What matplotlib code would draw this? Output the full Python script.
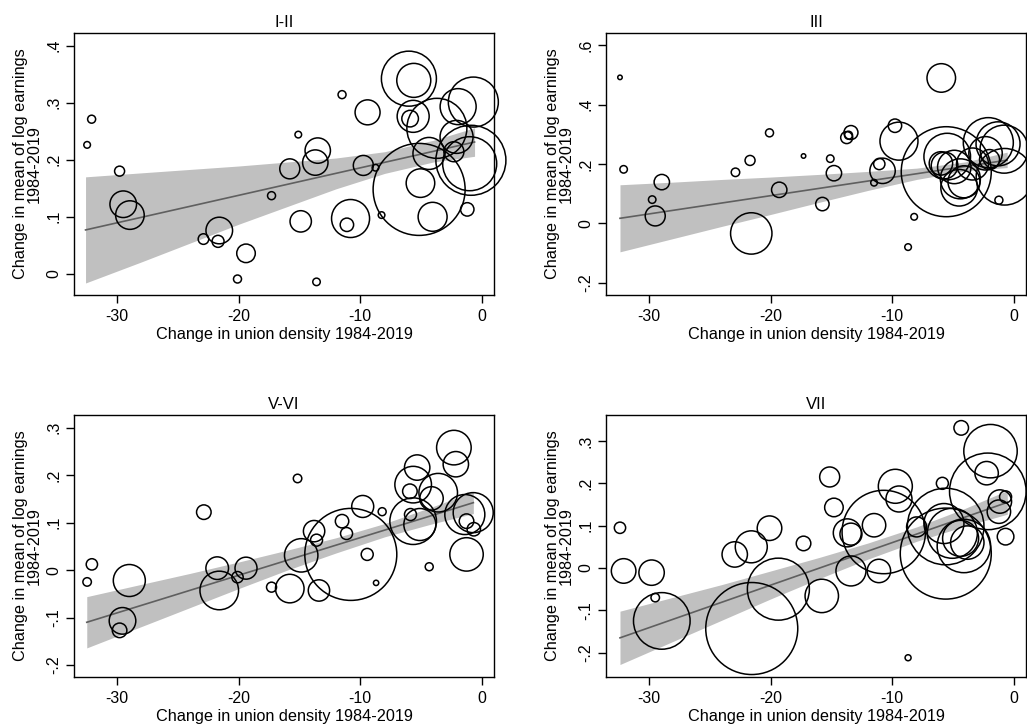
import matplotlib
matplotlib.use("Agg")
import matplotlib.pyplot as plt

plt.rcParams['font.family'] = ['Liberation Sans', 'DejaVu Sans']

# ---------------- data ----------------
titles = ["I-II", "III", "V-VI", "VII"]
xlabel_text = "Change in union density 1984-2019"
ylabel_text = "Change in mean of log earnings\n1984-2019"

x_ticks = [-30, -20, -10, 0]
x_ticklabels = ["-30", "-20", "-10", "0"]

# Panel I-II
x1 = [-32.47, -32.10, -29.80, -29.50, -28.95, -22.90, -21.70, -21.60, -19.40, -20.10,
      -17.30, -15.80, -15.10, -14.90, -13.50, -13.70, -13.60, -11.50, -10.80, -11.10,
      -9.40, -9.75, -8.75, -8.25, -6.00, -5.60, -5.65, -5.90, -3.70, -5.16,
      -5.05, -4.35, -4.05, -1.95, -0.70, -2.08, -2.30, -0.90, -1.00, -1.20]
y1 = [0.226, 0.271, 0.180, 0.122, 0.103, 0.061, 0.057, 0.076, 0.036, -0.009,
      0.137, 0.184, 0.244, 0.092, 0.216, 0.195, -0.014, 0.314, 0.097, 0.086,
      0.283, 0.190, 0.186, 0.103, 0.342, 0.339, 0.276, 0.272, 0.255, 0.148,
      0.159, 0.211, 0.100, 0.293, 0.301, 0.240, 0.214, 0.199, 0.193, 0.113]
w1 = [11, 16, 25, 177, 204, 28, 36, 177, 86, 16,
      16, 100, 11, 114, 161, 161, 14, 16, 361, 45,
      156, 100, 11, 11, 756, 289, 256, 69, 900, 2116,
      204, 256, 210, 324, 625, 272, 100, 1225, 729, 45]

# Panel III
x2 = [-32.40, -32.10, -29.75, -29.50, -28.96, -22.90, -21.70, -21.60, -20.10, -19.30,
      -17.30, -15.75, -15.10, -14.80, -13.40, -13.75, -13.60, -11.50, -11.07, -10.80,
      -9.78, -9.45, -8.70, -8.20, -5.97, -5.56, -5.48, -6.00, -5.70, -4.90,
      -4.40, -4.10, -4.50, -3.40, -2.10, -1.30, -0.80, -2.33, -2.00, -0.77, -1.23]
y2 = [0.492, 0.182, 0.080, 0.025, 0.139, 0.172, 0.212, -0.034, 0.305, 0.113,
      0.227, 0.065, 0.218, 0.169, 0.306, 0.289, 0.297, 0.137, 0.200, 0.177,
      0.329, 0.277, -0.080, 0.022, 0.490, 0.174, 0.225, 0.202, 0.195, 0.190,
      0.150, 0.140, 0.120, 0.200, 0.272, 0.268, 0.250, 0.236, 0.215, 0.157, 0.078]
w2 = [5, 14, 14, 100, 59, 18, 25, 428, 16, 59,
      5, 45, 14, 59, 49, 36, 16, 11, 32, 161,
      45, 361, 11, 11, 204, 2025, 543, 137, 177, 279,
      400, 256, 335, 256, 625, 484, 576, 279, 100, 801, 16]

# Panel V-VI
x3 = [-32.47, -32.08, -29.00, -29.56, -29.80, -22.87, -21.77, -21.60, -20.10, -19.40,
      -17.30, -15.80, -15.16, -14.86, -13.80, -13.60, -13.40, -10.78, -11.50, -11.13,
      -9.80, -9.43, -8.20, -8.70, -2.30, -2.14, -5.32, -5.65, -3.59, -5.92,
      -4.14, -5.65, -5.10, -5.87, -1.40, -0.71, -1.26, -0.66, -1.26, -4.33]
y3 = [-0.025, 0.012, -0.022, -0.107, -0.127, 0.122, 0.004, -0.043, -0.015, 0.004,
      -0.036, -0.039, 0.193, 0.031, 0.082, 0.063, -0.043, 0.033, 0.103, 0.077,
      0.134, 0.033, 0.123, -0.027, 0.258, 0.223, 0.216, 0.180, 0.163, 0.166,
      0.151, 0.103, 0.096, 0.117, 0.117, 0.121, 0.103, 0.086, 0.033, 0.007]
w3 = [18, 32, 256, 177, 53, 53, 128, 372, 32, 121,
      25, 204, 18, 279, 114, 36, 114, 2116, 45, 36,
      121, 36, 16, 7, 299, 161, 161, 335, 372, 53,
      137, 543, 256, 36, 400, 400, 53, 45, 279, 16]

# Panel VII
x4 = [-32.40, -32.10, -29.80, -29.50, -28.96, -22.96, -21.60, -20.10, -21.56, -19.37,
      -17.30, -15.80, -15.15, -14.80, -13.70, -13.40, -13.40, -11.50, -11.10, -10.70,
      -9.75, -9.45, -8.70, -8.00, -4.33, -1.92, -2.24, -2.14, -5.88, -1.15,
      -0.68, -1.23, -0.68, -5.60, -5.61, -5.75, -5.06, -4.38, -3.83, -4.11]
y4 = [0.095, -0.007, -0.011, -0.070, -0.125, 0.032, 0.050, 0.094, -0.143, -0.050,
      0.058, -0.066, 0.215, 0.143, 0.083, 0.080, -0.007, 0.101, -0.007, 0.085,
      0.193, 0.163, -0.212, 0.097, 0.331, 0.276, 0.224, 0.181, 0.200, 0.157,
      0.168, 0.133, 0.074, 0.034, 0.098, 0.105, 0.082, 0.070, 0.060, 0.052]
w4 = [32, 151, 161, 18, 801, 161, 256, 151, 2116, 961,
      53, 279, 100, 86, 196, 121, 225, 137, 137, 1739,
      289, 169, 9, 100, 53, 713, 137, 1467, 36, 137,
      36, 137, 69, 2070, 1467, 400, 625, 324, 279, 713]

# Fitted lines (end points) and 95% CI band
fit_x1 = [-32.6, -28, -24, -20, -16, -12, -8, -4, -0.6]
fit_y1 = [0.077, 0.231]
lo1 = [-0.016, 0.021, 0.054, 0.087, 0.118, 0.149, 0.176, 0.196, 0.206]
hi1 = [0.170, 0.177, 0.183, 0.189, 0.196, 0.203, 0.214, 0.234, 0.256]

fit_x2 = [-32.4, -28, -24, -20, -16, -12, -8, -4, -0.55]
fit_y2 = [0.017, 0.213]
lo2 = [-0.096, -0.051, -0.010, 0.030, 0.071, 0.111, 0.148, 0.177, 0.188]
hi2 = [0.130, 0.139, 0.148, 0.156, 0.165, 0.175, 0.186, 0.207, 0.240]

fit_x3 = [-32.5, -28, -24, -20, -16, -12, -8, -4, -0.7]
fit_y3 = [-0.110, 0.142]
lo3 = [-0.164, -0.119, -0.079, -0.039, 0.000, 0.036, 0.070, 0.098, 0.119]
hi3 = [-0.056, -0.030, -0.007, 0.017, 0.042, 0.068, 0.098, 0.134, 0.165]

fit_x4 = [-32.4, -28, -24, -20, -16, -12, -8, -4, -0.54]
fit_y4 = [-0.165, 0.155]
lo4 = [-0.228, -0.173, -0.123, -0.073, -0.025, 0.021, 0.063, 0.099, 0.127]
hi4 = [-0.102, -0.069, -0.039, -0.007, 0.025, 0.059, 0.097, 0.141, 0.183]

y_ticks = [[0, 0.1, 0.2, 0.3, 0.4],
           [-0.2, 0, 0.2, 0.4, 0.6],
           [-0.2, -0.1, 0, 0.1, 0.2, 0.3],
           [-0.2, -0.1, 0, 0.1, 0.2, 0.3]]
y_ticklabels = [["0", ".1", ".2", ".3", ".4"],
                ["-.2", "0", ".2", ".4", ".6"],
                ["-.2", "-.1", "0", ".1", ".2", ".3"],
                ["-.2", "-.1", "0", ".1", ".2", ".3"]]
y_limits = [(-0.037, 0.422), (-0.2415, 0.6415), (-0.2253, 0.3267), (-0.2575, 0.3614)]
x_limits = (-33.55, 1.0)

panels = [
    (x1, y1, w1, fit_x1, fit_y1, lo1, hi1),
    (x2, y2, w2, fit_x2, fit_y2, lo2, hi2),
    (x3, y3, w3, fit_x3, fit_y3, lo3, hi3),
    (x4, y4, w4, fit_x4, fit_y4, lo4, hi4),
]

# ---------------- figure ----------------
DPI = 100
W, H = 1027, 725
fig = plt.figure(figsize=(W / DPI, H / DPI), dpi=DPI)
fig.patch.set_facecolor("white")

ax_w, ax_h = 420, 262
lefts = [74, 606, 74, 606]
tops = [33, 33, 415, 415]

px2pt = 72.0 / DPI
size_scale = (2 * px2pt) ** 2   # weight (px^2 radius^2) -> points^2 marker area

for i, (xs, ys, ws, fx, fy, lo, hi) in enumerate(panels):
    rect = [lefts[i] / W, 1 - (tops[i] + ax_h) / H, ax_w / W, ax_h / H]
    ax = fig.add_axes(rect)

    ax.fill_between(fx, lo, hi, color="#c0c0c0", linewidth=0, zorder=1)
    ax.plot([fx[0], fx[-1]], fy, color="#5f5f5f", lw=1.2, zorder=2)
    ax.scatter(xs, ys, s=[w * size_scale for w in ws], facecolors="none",
               edgecolors="black", linewidths=1.1, zorder=3, clip_on=False)

    ax.set_xlim(*x_limits)
    ax.set_ylim(*y_limits[i])
    ax.set_xticks(x_ticks)
    ax.set_xticklabels(x_ticklabels)
    ax.set_yticks(y_ticks[i])
    ax.set_yticklabels(y_ticklabels[i], rotation=90, va="center")

    for sp in ax.spines.values():
        sp.set_linewidth(1.0)
        sp.set_color("black")
    ax.tick_params(axis="both", which="both", direction="out", length=5.8,
                   width=1.0, labelsize=11.5, top=False, right=False, colors="black")
    ax.tick_params(axis="x", pad=4.5)
    ax.tick_params(axis="y", pad=3.5)

    ax.set_title(titles[i], fontsize=12, pad=4.5)

    ax.set_xlabel(xlabel_text, fontsize=11.7)
    ax.xaxis.set_label_coords(0.5, -44.5 / ax_h)
    ax.xaxis.label.set_va("baseline")

    ax.set_ylabel(ylabel_text, fontsize=11.7, linespacing=0.95)
    ax.yaxis.set_label_coords(-46.5 / ax_w, 0.5)
    ax.yaxis.label.set_va("center")
    ax.yaxis.label.set_ha("center")

fig.savefig("out.png", dpi=DPI, facecolor="white")
